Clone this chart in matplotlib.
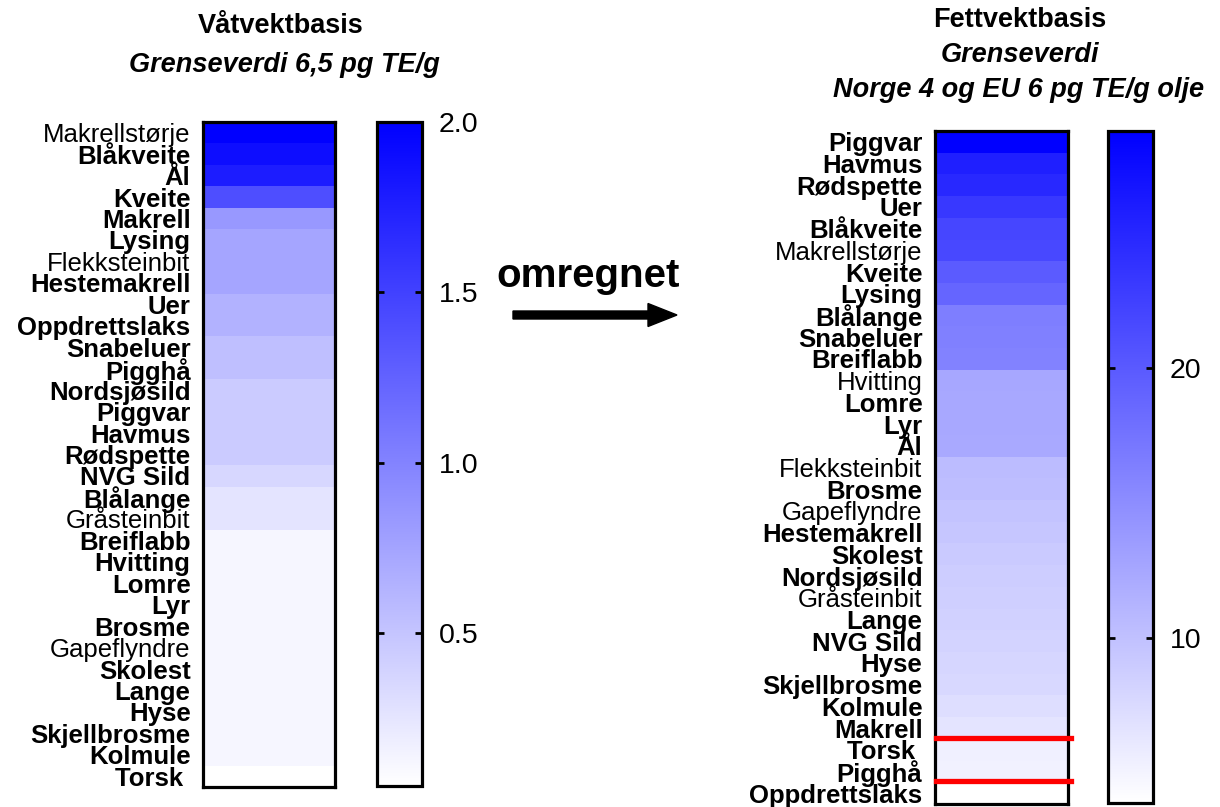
import numpy as np
import matplotlib
matplotlib.use("Agg")
import matplotlib.pyplot as plt
from matplotlib.colors import LinearSegmentedColormap
from matplotlib.patches import FancyArrow

plt.rcParams['font.family'] = ['Liberation Sans', 'DejaVu Sans']

# ---------------- data ----------------
wet_species = ["Makrellstørje", "Blåkveite", "Ål", "Kveite", "Makrell", "Lysing",
               "Flekksteinbit", "Hestemakrell", "Uer", "Oppdrettslaks", "Snabeluer",
               "Pigghå", "Nordsjøsild", "Piggvar", "Havmus", "Rødspette", "NVG Sild",
               "Blålange", "Gråsteinbit", "Breiflabb", "Hvitting", "Lomre", "Lyr",
               "Brosme", "Gapeflyndre", "Skolest", "Lange", "Hyse", "Skjellbrosme",
               "Kolmule", "Torsk "]
wet_values = [2.00, 1.90, 1.78, 1.40, 0.84, 0.74, 0.74, 0.74, 0.64, 0.64, 0.54,
              0.54, 0.45, 0.45, 0.45, 0.45, 0.36, 0.26, 0.26, 0.12, 0.12, 0.12,
              0.12, 0.12, 0.12, 0.12, 0.12, 0.12, 0.12, 0.12, 0.05]
wet_regular = ["Makrellstørje", "Flekksteinbit", "Gråsteinbit", "Gapeflyndre"]
wet_ticks = [0.5, 1.0, 1.5, 2.0]
wet_ticklabels = ["0.5", "1.0", "1.5", "2.0"]

fat_species = ["Piggvar", "Havmus", "Rødspette", "Uer", "Blåkveite", "Makrellstørje",
               "Kveite", "Lysing", "Blålange", "Snabeluer", "Breiflabb", "Hvitting",
               "Lomre", "Lyr", "Ål", "Flekksteinbit", "Brosme", "Gapeflyndre",
               "Hestemakrell", "Skolest", "Nordsjøsild", "Gråsteinbit", "Lange",
               "NVG Sild", "Hyse", "Skjellbrosme", "Kolmule", "Makrell", "Torsk ",
               "Pigghå", "Oppdrettslaks"]
fat_values = [28.8, 25.7, 24.8, 23.2, 21.9, 21.7, 19.9, 18.9, 16.5, 16.3, 16.1,
              12.5, 12.4, 12.4, 12.3, 10.5, 10.3, 9.7, 9.5, 9.1, 8.8, 8.6, 8.4,
              8.2, 7.9, 7.7, 7.2, 6.6, 5.4, 5.3, 3.9]
fat_regular = ["Makrellstørje", "Hvitting", "Flekksteinbit", "Gapeflyndre", "Gråsteinbit"]
fat_ticks = [10, 20]
fat_ticklabels = ["10", "20"]
fat_limits = [6, 4]  # EU, Norge

W, H = 1220, 807
fig = plt.figure(figsize=(W / 100, H / 100), dpi=100)
cmap = LinearSegmentedColormap.from_list("wb", ["#FFFFFF", "#0000FF"])


def px_axes(x0, y0, x1, y1):
    return fig.add_axes([x0 / W, 1 - y1 / H, (x1 - x0) / W, (y1 - y0) / H])


def heat(ax, cax, names, vals, regular, ticks, ticklabels):
    arr = np.array(vals, dtype=float).reshape(-1, 1)
    im = ax.imshow(arr, aspect='auto', cmap=cmap, interpolation='nearest',
                   vmin=min(vals), vmax=max(vals))
    ax.set_xticks([])
    ax.set_yticks(range(len(names)))
    ax.set_yticklabels(names, fontsize=18.5)
    for t in ax.get_yticklabels():
        t.set_fontweight('normal' if t.get_text().strip() in regular else 'bold')
    ax.tick_params(axis='y', length=0, pad=9)
    for s in ax.spines.values():
        s.set_linewidth(2.3)
    cb = fig.colorbar(im, cax=cax)
    cb.set_ticks(ticks)
    cb.set_ticklabels(ticklabels)
    cb.outline.set_linewidth(2.3)
    cax.tick_params(axis='y', direction='in', left=True, right=True, length=5,
                    width=2, labelsize=20.5, pad=12)
    return im


ax1 = px_axes(203, 122, 335, 787)
cax1 = px_axes(377, 122, 422, 786)
heat(ax1, cax1, wet_species, wet_values, wet_regular, wet_ticks, wet_ticklabels)

ax2 = px_axes(935, 131, 1068, 804)
cax2 = px_axes(1108, 131, 1153, 803)
heat(ax2, cax2, fat_species, fat_values, fat_regular, fat_ticks, fat_ticklabels)

# threshold lines (between rows above / below the limits)
for lim in fat_limits:
    idx = sum(1 for v in fat_values if v >= lim)
    ax2.axhline(idx - 0.55, xmin=0.01, xmax=1.025, color='#FF0000', lw=3.8,
                clip_on=False, zorder=5)

# overlay for titles and arrow
ov = fig.add_axes([0, 0, 1, 1])
ov.set_xlim(0, W)
ov.set_ylim(H, 0)
ov.axis('off')
ov.patch.set_alpha(0)

ov.text(281, 33, "Våtvektbasis", ha='center', va='baseline', fontsize=19.5, fontweight='bold')
ov.text(284, 72, "Grenseverdi 6,5 pg TE/g", ha='center', va='baseline', fontsize=19.5,
        fontweight='bold', fontstyle='italic')

ov.text(1020, 27, "Fettvektbasis", ha='center', va='baseline', fontsize=19.5, fontweight='bold')
ov.text(1020, 62, "Grenseverdi", ha='center', va='baseline', fontsize=19.5,
        fontweight='bold', fontstyle='italic')
ov.text(1019, 97, "Norge 4 og EU 6 pg TE/g olje", ha='center', va='baseline', fontsize=19.5,
        fontweight='bold', fontstyle='italic')

ov.text(588, 287, "omregnet", ha='center', va='baseline', fontsize=29, fontweight='bold')
ov.add_patch(FancyArrow(513, 315, 164, 0, width=8, head_width=23, head_length=29,
                        length_includes_head=True, color='black'))

fig.savefig("out.png", dpi=100)
